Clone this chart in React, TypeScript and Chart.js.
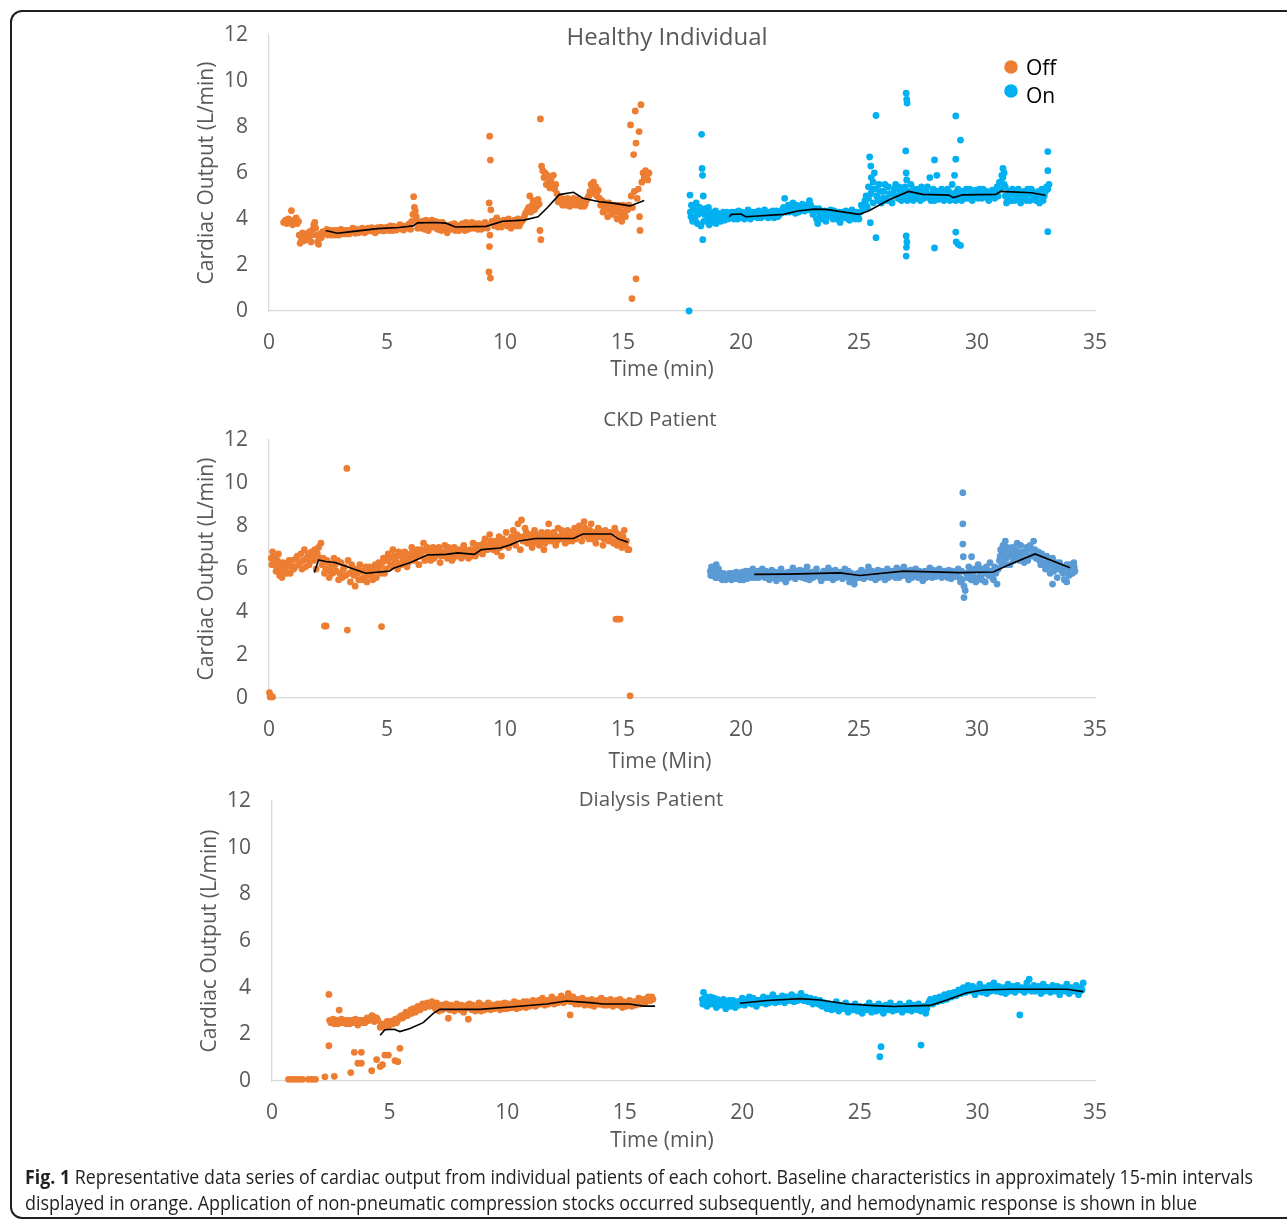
import React, { useEffect, useLayoutEffect, useRef } from "react";
import { Chart, registerables } from "chart.js";

Chart.register(...registerables);

type P = [number, number][];

// ---------------- DATA ----------------
const seriesLabels = ["Off", "On"];
const xTickStep = 5;
const yTickStep = 2;
const xMax = 35;
const yMax = 12;

const healthyOff: P = [
  [0.62,3.85],[0.7,3.95],[0.75,3.8],[0.82,4.0],[0.88,3.9],[0.95,4.36],[1.0,3.75],[1.05,3.95],[1.1,3.85],[1.15,4.05],[1.2,3.8],[1.25,3.9],
  [1.28,3.3],[1.32,2.95],[1.38,3.15],[1.42,3.4],[1.48,3.05],[1.52,3.25],[1.58,3.35],[1.62,3.1],[1.68,3.2],[1.72,3.45],[1.78,3.0],[1.82,3.3],[1.86,3.55],[1.9,3.75],[1.94,3.85],[1.98,3.6],[2.02,3.3],[2.06,3.0],[2.1,2.9],[2.14,3.15],[2.18,3.35],[2.22,3.2],[2.28,3.45],
  [2.35,3.35],[2.45,3.55],[2.55,3.4],[2.65,3.3],[2.75,3.5],[2.85,3.4],[2.95,3.3],[3.05,3.55],[3.15,3.45],[3.25,3.35],[3.35,3.5],[3.45,3.42],[3.55,3.6],[3.65,3.38],[3.75,3.5],[3.85,3.45],[3.95,3.6],[4.05,3.4],[4.15,3.55],[4.25,3.48],[4.35,3.62],[4.45,3.45],[4.55,3.58],[4.65,3.5],[4.75,3.65],[4.85,3.48],[4.95,3.6],[5.05,3.55],[5.15,3.7],[5.25,3.5],[5.35,3.62],[5.45,3.58],[5.55,3.75],[5.65,3.55],[5.75,3.68],[5.85,3.6],[5.95,3.8],
  [6.05,3.9],[6.1,4.2],[6.13,4.97],[6.16,4.5],[6.2,4.35],[6.24,4.1],[6.28,3.9],[6.3,3.6],
  [6.35,3.85],[6.45,3.6],[6.55,3.75],[6.65,3.95],[6.75,3.5],[6.85,3.8],[6.95,3.65],[7.05,3.9],[7.15,3.55],[7.25,3.75],[7.35,3.85],[7.45,3.6],
  [7.55,3.4],[7.65,3.65],[7.75,3.55],[7.85,3.8],[7.95,3.6],[8.05,3.5],[8.15,3.75],[8.25,3.62],[8.35,3.85],[8.45,3.55],[8.55,3.7],[8.65,3.6],[8.75,3.8],[8.85,3.55],[8.95,3.72],[9.05,3.62],[9.15,3.85],[9.25,3.6],
  [9.35,7.6],[9.38,6.56],[9.33,4.7],[9.4,4.4],[9.36,3.3],[9.34,2.8],[9.32,1.7],[9.38,1.43],
  [9.45,3.9],[9.55,3.7],[9.65,4.05],[9.75,3.8],[9.85,3.65],[9.95,3.95],[10.05,3.75],[10.15,4.0],[10.25,3.6],[10.35,3.85],[10.45,3.7],[10.55,4.0],[10.65,3.8],[10.75,3.95],[10.85,4.2],[10.95,4.4],
  [11.0,4.5],[11.05,5.0],[11.1,4.3],[11.15,4.6],[11.2,4.8],[11.25,4.4],[11.3,4.7],[11.35,4.55],[11.4,4.85],[11.45,4.65],
  [11.5,8.35],[11.48,3.5],[11.52,3.1],
  [11.55,6.3],[11.6,6.1],[11.65,5.8],[11.7,6.0],[11.75,5.5],[11.8,5.9],[11.85,5.6],[11.9,5.35],[11.95,5.7],[12.0,5.45],[12.05,5.9],[12.1,5.3],[12.15,5.5],[12.2,5.1],
  [12.3,4.9],[12.4,4.7],[12.5,4.85],[12.6,4.6],[12.7,4.8],[12.8,4.65],[12.9,4.9],[13.0,4.6],[13.1,4.75],[13.2,4.55],[13.3,4.8],[13.4,4.65],[13.5,4.9],
  [13.6,5.2],[13.65,5.5],[13.7,5.3],[13.75,5.6],[13.8,5.1],[13.85,5.4],[13.9,5.0],[13.95,5.25],[14.0,4.9],
  [14.05,4.6],[14.15,4.3],[14.25,4.7],[14.35,4.1],[14.45,4.5],[14.55,4.2],[14.65,4.6],[14.75,4.0],[14.85,4.4],[14.95,3.9],[15.05,4.3],[15.15,4.5],
  [15.25,4.6],[15.32,8.09],[15.35,5.0],[15.4,4.5],[15.45,6.8],[15.48,5.2],[15.52,8.7],[15.55,7.3],[15.55,1.4],[15.38,0.54],[15.6,4.9],[15.65,5.3],[15.68,7.8],[15.7,4.1],[15.72,3.5],[15.76,8.97],[15.8,5.6],[15.85,6.0],[15.9,5.8],[15.95,6.1],[16.0,5.9],[16.05,5.7],[16.1,6.0],
  [2.4,3.45],[2.5,3.3],[2.6,3.5],[2.7,3.4],[2.8,3.3],[2.9,3.5],[3.0,3.4],[3.1,3.35],[3.2,3.5],[3.3,3.45],[3.4,3.35],[3.5,3.48],[3.6,3.45],[3.7,3.55],[3.8,3.4],[3.9,3.52],[4.0,3.5],[4.1,3.45],[4.2,3.6],[4.3,3.5],[4.4,3.52],[4.5,3.4],[4.6,3.62],[4.7,3.55],[4.8,3.58],[4.9,3.5],[5.0,3.65],[5.1,3.5],[5.2,3.6],[5.3,3.68],[5.4,3.52],[5.5,3.65],[5.6,3.6],[5.7,3.52],[5.8,3.7],[5.9,3.65],[6.0,3.55],
  [6.4,3.7],[6.5,3.9],[6.6,3.55],[6.7,3.8],[6.8,3.65],[6.9,3.95],[7.0,3.7],[7.1,3.6],[7.2,3.85],[7.3,3.5],[7.4,3.75],[7.5,3.7],[7.6,3.55],[7.7,3.75],[7.8,3.6],[7.9,3.5],[8.0,3.7],[8.1,3.6],[8.2,3.8],[8.3,3.5],[8.4,3.7],[8.5,3.6],[8.6,3.85],[8.7,3.65],[8.8,3.6],[8.9,3.8],[9.0,3.55],[9.1,3.7],[9.2,3.75],[9.5,3.8],[9.6,3.95],[9.7,3.65],[9.8,3.9],[9.9,3.75],[10.0,3.85],[10.1,3.7],[10.2,3.9],[10.3,3.75],[10.4,3.95],[10.5,3.8],[10.6,3.7],[10.7,3.9],[10.8,4.05],[10.9,4.3],
  [12.25,4.75],[12.35,4.95],[12.45,4.6],[12.55,4.75],[12.65,4.9],[12.75,4.55],[12.85,4.75],[12.95,4.7],[13.05,4.85],[13.15,4.65],[13.25,4.7],[13.35,4.55],[13.45,4.8],[13.55,5.0],[14.1,4.8],[14.2,4.5],[14.3,4.4],[14.4,4.7],[14.5,4.35],[14.6,4.45],[14.7,4.3],[14.8,4.6],[14.9,4.15],[15.0,4.6],[15.1,4.1],[15.2,4.4]
];

const healthyOn: P = [
  [17.8,0.0],[17.84,5.04],[18.33,7.68],[18.35,6.2],[18.37,5.9],[18.4,5.0],[18.38,3.1],
  [17.85,4.3],[17.9,4.6],[17.95,3.9],[18.0,4.4],[18.05,4.1],[18.1,4.7],[18.15,3.8],[18.2,4.3],[18.25,4.5],[18.3,3.7],[18.45,4.2],[18.5,4.45],[18.55,3.9],[18.6,4.1],[18.65,3.75],[18.7,4.3],[18.75,4.0],[18.8,3.85],[18.85,4.2],[18.9,4.05],[18.95,3.8],[19.0,4.25],[19.1,4.0],[19.2,4.15],[19.3,3.95],[19.4,4.3],
  [19.5,4.1],[19.6,4.3],[19.7,4.0],[19.8,4.2],[19.9,4.35],[20.0,4.05],[20.1,4.25],[20.2,4.1],[20.3,4.4],[20.4,4.0],[20.5,4.2],[20.6,4.3],[20.7,4.05],[20.8,4.25],[20.9,4.15],[21.0,4.4],[21.1,4.1],[21.2,4.3],[21.3,4.2],[21.4,4.05],[21.5,4.35],[21.6,4.15],[21.7,4.25],
  [21.8,4.5],[21.85,4.9],[21.9,4.3],[22.0,4.6],[22.1,4.4],[22.2,4.7],[22.3,4.25],[22.4,4.55],[22.5,4.4],[22.6,4.65],[22.7,4.35],[22.8,4.6],[22.9,4.8],[23.0,4.45],
  [23.1,4.3],[23.2,4.0],[23.25,3.8],[23.3,4.45],[23.4,4.1],[23.5,4.3],[23.6,3.9],[23.7,4.2],[23.8,4.4],[23.9,4.0],[24.0,4.25],[24.1,4.1],[24.2,3.85],[24.3,4.3],[24.4,4.05],[24.5,4.2],[24.6,3.95],[24.7,4.4],[24.8,4.1],[24.9,4.3],[25.0,4.0],[25.1,4.6],
  [25.3,5.0],[25.4,5.4],[25.45,6.7],[25.5,6.3],[25.52,5.8],[25.48,3.84],[25.72,8.5],[25.72,3.19],[25.6,5.6],[25.65,6.0],
  [25.25,4.8],[25.35,4.5],[25.55,5.3],[25.75,5.0],[25.85,5.5],[25.95,4.7],[26.05,5.2],[26.15,4.9],[26.25,5.4],[26.35,4.8],[26.45,5.1],[26.55,5.5],[26.65,4.9],[26.75,5.2],[26.85,5.0],[26.95,5.4],[27.05,4.8],[27.15,5.2],[27.25,5.0],[27.35,5.3],[27.45,4.9],[27.55,5.1],[27.65,5.4],[27.75,4.9],[27.85,5.2],[27.95,5.0],[28.05,4.8],[28.15,5.3],[28.25,5.0],[28.35,4.85],[28.45,5.2],[28.55,4.9],[28.65,5.1],[28.75,5.3],[28.85,4.8],[28.95,5.5],[29.05,4.9],[29.15,5.2],[29.25,5.0],[29.35,4.8],[29.45,5.1],[29.55,5.3],[29.65,4.9],[29.75,5.1],[29.85,5.0],[29.95,5.25],[30.05,4.9],[30.15,5.1],[30.25,5.3],[30.35,4.95],[30.45,5.15],[30.55,5.0],[30.65,5.25],[30.75,4.9],[30.85,5.4],[30.95,5.6],[31.05,5.9],[31.1,6.2],[31.15,5.5],[31.2,5.0],[31.25,4.7],[31.35,5.2],[31.45,4.8],[31.55,5.1],[31.65,4.9],[31.75,5.3],[31.85,4.7],[31.95,5.1],[32.05,5.0],[32.15,5.3],[32.25,4.8],[32.35,5.2],[32.45,4.9],[32.55,5.1],[32.65,4.7],[32.75,5.3],[32.85,5.0],[32.95,5.4],[33.05,5.5],
  [27.0,9.47],[27.02,9.2],[27.04,9.04],[26.98,6.96],[27.0,6.0],[27.02,5.7],[27.0,3.26],[27.03,3.0],[27.01,2.77],[27.0,2.39],[28.2,6.57],[28.2,2.74],[28.3,5.9],[29.1,8.48],[29.1,6.6],[29.1,3.43],[29.12,3.0],[29.2,2.9],[29.3,7.43],[29.3,2.85],[29.05,5.9],[28.0,5.8],[33.0,6.93],[33.0,6.1],[33.0,3.45],[31.1,5.8],[31.15,6.0],
  [17.88,4.1],[17.98,4.5],[18.08,3.9],[18.18,4.2],[18.28,4.4],[18.42,3.9],[18.52,4.25],[18.62,4.5],[18.72,3.95],[18.82,4.1],[18.92,4.35],[19.05,4.1],[19.15,3.9],[19.25,4.3],[19.35,4.1],[19.45,4.0],[19.55,4.2],[19.65,4.15],[19.75,4.3],[19.85,4.0],[19.95,4.2],[20.05,4.3],[20.15,4.0],[20.25,4.2],[20.35,4.15],[20.45,4.3],[20.55,4.1],[20.65,4.2],[20.75,4.35],[20.85,4.05],[20.95,4.2],[21.05,4.25],[21.15,4.05],[21.25,4.2],[21.35,4.35],[21.45,4.2],[21.55,4.1],[21.65,4.3],[21.75,4.4],[21.95,4.5],[22.05,4.3],[22.15,4.55],[22.25,4.45],[22.35,4.6],[22.45,4.3],[22.55,4.5],[22.65,4.4],[22.75,4.55],[22.85,4.4],[22.95,4.6],[23.05,4.2],[23.15,4.45],[23.35,4.2],[23.45,4.0],[23.55,4.35],[23.65,4.1],[23.75,4.3],[23.85,4.15],[23.95,4.35],[24.05,4.0],[24.15,4.3],[24.25,4.15],[24.35,4.1],[24.45,4.35],[24.55,4.0],[24.65,4.2],[24.75,4.1],[24.85,4.0],[24.95,4.2],[25.05,4.3],[25.15,4.4],
  [25.3,4.6],[25.4,4.9],[25.5,5.1],[25.6,4.7],[25.7,5.3],[25.8,4.8],[25.9,5.2],[26.0,4.9],[26.1,5.5],[26.2,4.8],[26.3,5.1],[26.4,4.7],[26.5,5.3],[26.6,5.0],[26.7,5.4],[26.8,4.8],[26.9,5.2],[27.1,5.0],[27.2,5.5],[27.3,4.8],[27.4,5.1],[27.5,5.3],[27.6,4.8],[27.7,5.2],[27.8,5.0],[27.9,5.4],[28.0,4.9],[28.1,5.1],[28.2,4.8],[28.3,5.2],[28.4,5.0],[28.5,5.3],[28.6,4.8],[28.7,5.0],[28.8,5.2],[28.9,4.9],[29.0,5.1],[29.1,4.8],[29.2,5.3],[29.3,5.0],[29.4,5.2],[29.5,4.9],[29.6,5.0],[29.7,5.3],[29.8,4.8],[29.9,5.1],[30.0,5.0],[30.1,5.3],[30.2,4.9],[30.3,5.1],[30.4,5.2],[30.5,4.8],[30.6,5.1],[30.7,5.0],[30.8,5.2],[30.9,5.0],[31.0,5.3],[31.2,5.4],[31.3,4.9],[31.4,5.1],[31.5,5.3],[31.6,4.8],[31.7,5.0],[31.8,5.2],[31.9,4.9],[32.0,5.2],[32.1,4.8],[32.2,5.1],[32.3,5.3],[32.4,5.0],[32.5,4.8],[32.6,5.2],[32.7,5.0],[32.8,4.8],[32.9,5.2],[33.0,5.3]
];

const healthyOffTrend: P = [
  [2.4,3.5],[2.9,3.38],[3.5,3.45],[4.6,3.58],[5.5,3.63],[6.1,3.7],[6.3,3.83],[7.0,3.85],[7.5,3.82],[7.9,3.65],[9.2,3.68],[9.9,3.9],[10.8,3.95],[11.4,4.1],[11.8,4.5],[12.3,5.06],[12.9,5.16],[13.3,4.9],[14.0,4.75],[14.5,4.7],[15.3,4.57],[15.9,4.8]
];
const healthyOnTrend: P = [
  [19.5,4.1],[19.6,4.2],[20.0,4.22],[20.2,4.1],[21.8,4.2],[22.4,4.35],[23.1,4.43],[23.6,4.42],[25.0,4.2],[25.4,4.35],[26.3,4.85],[27.1,5.2],[27.7,5.07],[28.8,5.04],[29.0,4.93],[29.4,5.05],[30.8,5.07],[31.0,5.2],[32.3,5.14],[32.9,5.03]
];

const ckdOff: P = [
  [0.02,0.25],[0.08,0.1],[0.15,0.05],[0.05,0.05],
  [0.1,6.5],[0.15,6.8],[0.2,6.2],[0.25,6.6],[0.3,5.9],[0.35,6.4],[0.4,6.7],[0.45,5.7],[0.5,6.1],[0.55,5.6],[0.6,6.3],[0.7,6.0],[0.8,6.2],[0.9,5.8],[1.0,6.4],[1.1,6.1],[1.2,6.6],[1.3,6.3],[1.4,6.0],[1.5,6.9],[1.6,6.5],[1.7,6.2],[1.8,6.8],[1.9,6.4],[2.0,6.0],[2.05,6.7],[2.1,7.0],[2.15,6.5],[2.2,7.2],
  [2.25,6.2],[2.35,5.8],[2.45,6.4],[2.55,5.6],[2.65,6.1],[2.75,6.5],[2.85,5.9],[2.95,5.5],[3.05,6.3],[3.15,6.0],[3.25,5.7],[3.35,6.4],[3.45,5.4],[3.55,6.0],[3.65,5.2],[3.75,5.8],[3.85,6.2],[3.95,5.5],[4.05,5.9],[4.15,5.4],
  [3.3,10.68],[2.35,3.35],[2.42,3.35],[3.32,3.16],[4.77,3.32],
  [4.25,6.1],[4.35,5.7],[4.45,6.0],[4.55,5.6],[4.65,6.3],[4.75,5.8],[4.85,6.5],[4.95,6.0],[5.05,6.7],[5.15,6.2],[5.25,6.9],[5.35,6.4],[5.45,6.0],[5.55,6.6],[5.65,6.3],[5.75,6.8],[5.85,6.1],[5.95,6.5],[6.05,7.0],[6.15,6.4],[6.25,6.7],[6.35,6.2],[6.45,6.9],[6.55,7.2],[6.65,6.5],
  [6.75,6.8],[6.85,6.4],[6.95,7.0],[7.05,6.6],[7.15,6.9],[7.25,6.3],[7.35,6.7],[7.45,7.1],[7.55,6.5],[7.65,6.8],[7.75,6.4],[7.85,7.0],[7.95,6.6],[8.05,6.9],[8.15,6.5],[8.25,7.1],[8.35,6.7],[8.45,6.5],[8.55,6.9],[8.65,7.2],[8.75,6.6],[8.85,6.8],
  [8.95,7.1],[9.05,6.7],[9.15,7.4],[9.25,6.9],[9.35,7.6],[9.45,7.0],[9.55,7.3],[9.65,6.8],[9.75,7.5],[9.85,6.6],[9.95,7.2],[10.05,7.7],[10.15,7.0],[10.25,7.4],
  [10.35,7.8],[10.45,7.1],[10.55,8.1],[10.6,7.5],[10.65,6.9],[10.7,8.28],[10.75,7.3],[10.85,7.9],[10.95,7.2],[11.05,7.6],[11.15,7.0],[11.25,7.8],[11.35,7.3],[11.45,7.1],[11.55,7.7],[11.65,6.9],
  [11.75,7.5],[11.85,8.1],[11.95,7.3],[12.05,7.7],[12.15,7.1],[12.25,7.9],[12.35,7.4],[12.45,7.6],[12.55,7.2],[12.65,7.8],[12.75,7.5],[12.85,7.3],[12.95,7.9],
  [13.05,7.6],[13.15,8.0],[13.25,7.3],[13.35,8.2],[13.45,7.8],[13.55,7.4],[13.65,8.1],[13.75,7.6],[13.85,7.2],[13.95,7.9],[14.05,7.5],[14.15,7.1],[14.25,7.8],[14.35,7.4],[14.45,7.7],
  [14.55,7.3],[14.65,7.9],[14.75,7.1],[14.85,7.6],[14.95,7.0],[15.05,7.8],[15.15,7.3],[15.2,6.9],[15.25,6.9],
  [14.7,3.67],[14.8,3.67],[14.88,3.67],[15.3,0.1],
  [0.12,6.2],[0.22,6.5],[0.32,6.1],[0.42,6.3],[0.52,5.9],[0.65,6.2],[0.75,5.8],[0.85,6.4],[0.95,6.1],[1.05,6.0],[1.15,6.5],[1.25,6.2],[1.35,6.7],[1.45,6.4],[1.55,6.1],[1.65,6.7],[1.75,6.4],[1.85,6.6],[1.95,6.9],[2.3,6.5],[2.4,6.0],[2.5,6.3],[2.6,5.9],[2.7,5.8],[2.8,6.2],[2.9,6.4],[3.0,5.8],[3.1,5.6],[3.2,6.1],[3.4,5.8],[3.5,6.2],[3.6,5.7],[3.7,6.0],[3.8,5.5],[3.9,5.9],[4.0,5.6],[4.1,6.1],[4.2,5.7],[4.3,5.9],[4.4,5.5],[4.5,6.2],[4.6,5.9],[4.7,6.1],[4.8,6.3],[4.9,5.8],[5.0,6.4],[5.1,6.5],[5.2,6.1],[5.3,6.6],[5.4,6.3],[5.5,6.8],[5.6,6.2],[5.7,6.5],[5.8,6.7],[5.9,6.3],[6.0,6.7],[6.1,6.8],[6.2,6.5],[6.3,6.9],[6.4,6.6],[6.5,6.8],[6.6,6.4],[6.7,7.0],[6.8,6.6],[6.9,6.8],[7.0,6.5],[7.1,6.7],[7.2,7.0],[7.3,6.6],[7.4,6.8],[7.5,6.6],[7.6,7.0],[7.7,6.7],[7.8,6.5],[7.9,6.9],[8.0,6.7],[8.1,6.8],[8.2,6.6],[8.3,6.9],[8.4,6.8],[8.5,6.7],[8.6,6.6],[8.7,6.9],[8.8,7.1],[8.9,6.9],[9.0,6.8],[9.1,7.2],[9.2,7.0],[9.3,7.1],[9.4,7.3],[9.5,6.9],[9.6,7.1],[9.7,7.2],[9.8,7.0],[9.9,7.4],[10.0,7.1],[10.1,7.3],[10.2,7.2],[10.3,7.5],[10.4,7.3],[10.5,7.6],[10.8,7.5],[10.9,7.7],[11.0,7.3],[11.1,7.5],[11.2,7.2],[11.3,7.6],[11.4,7.5],[11.5,7.3],[11.6,7.4],[11.7,7.2],[11.8,7.7],[11.9,7.4],[12.0,7.5],[12.1,7.6],[12.2,7.3],[12.3,7.5],[12.4,7.8],[12.5,7.4],[12.6,7.6],[12.7,7.3],[12.8,7.7],[12.9,7.5],[13.0,7.4],[13.1,7.8],[13.2,7.7],[13.3,7.5],[13.4,7.9],[13.5,7.6],[13.6,7.8],[13.7,7.4],[13.8,7.7],[13.9,7.5],[14.0,7.8],[14.1,7.6],[14.2,7.4],[14.3,7.6],[14.4,7.3],[14.5,7.5],[14.6,7.2],[14.7,7.7],[14.8,7.4],[14.9,7.2],[15.0,7.5],[15.1,7.1]
];

const ckdOn: P = [
  [18.7,5.9],[18.75,6.1],[18.8,5.7],[18.85,6.0],[18.9,5.8],[18.95,6.2],[19.0,5.6],[19.05,6.0],[19.1,5.8],[19.2,5.5],[19.3,5.7],[19.4,5.55],[19.5,5.8],[19.6,5.5],[19.7,5.65],[19.8,5.85],[19.9,5.6],[20.0,5.75],[20.1,5.5],[20.2,5.9],[20.3,5.65],[20.4,5.8],[20.5,6.0],[20.6,5.6],
  [20.7,5.9],[20.8,5.7],[20.9,6.0],[21.0,5.6],[21.1,5.85],[21.2,5.5],[21.3,5.95],[21.4,5.7],[21.5,5.45],[21.6,5.8],[21.7,6.0],[21.8,5.6],[21.9,5.4],[22.0,5.85],[22.1,5.7],[22.2,6.05],[22.3,5.55],[22.4,5.8],[22.5,5.95],[22.6,5.6],[22.7,5.75],[22.8,6.1],[22.9,5.5],[23.0,5.85],[23.1,5.65],[23.2,6.0],[23.3,5.7],[23.4,5.45],[23.5,5.9],[23.6,5.6],[23.7,6.05],[23.8,5.75],[23.9,5.5],[24.0,5.95],[24.1,5.7],[24.2,5.85],[24.3,5.55],[24.4,6.0],[24.5,5.65],[24.6,5.4],[24.7,5.8],[24.8,5.3],[24.9,5.6],[25.0,5.75],[25.1,5.95],[25.2,5.55],[25.3,5.85],[25.4,6.1],[25.5,5.6],[25.6,5.8],[25.7,5.5],[25.8,5.95],[25.9,5.7],[26.0,5.85],[26.1,5.5],[26.2,6.0],[26.3,5.65],[26.4,5.9],[26.5,5.75],[26.6,6.05],[26.7,5.6],[26.8,5.85],[26.9,6.1],[27.0,5.7],[27.1,5.5],[27.2,5.95],[27.3,5.75],[27.4,6.0],[27.5,5.6],[27.6,5.85],[27.7,5.45],[27.8,5.9],[27.9,5.7],[28.0,6.05],[28.1,5.6],[28.2,5.85],[28.3,5.75],[28.4,6.0],[28.5,5.6],[28.6,5.9],[28.7,5.7],[28.8,5.95],[28.9,5.55],[29.0,5.8],[29.1,5.65],[29.2,6.0],[29.3,5.4],
  [29.4,9.55],[29.4,8.1],[29.4,7.16],[29.42,6.57],[29.77,6.57],[29.45,5.2],[29.45,4.67],[29.5,5.0],[29.38,5.5],
  [29.55,5.8],[29.65,6.1],[29.75,5.5],[29.85,5.9],[29.95,5.4],[30.05,6.2],[30.15,5.7],[30.25,6.0],[30.35,5.4],[30.45,5.9],[30.55,6.3],[30.65,5.6],[30.75,6.1],[30.85,5.3],
  [30.95,6.4],[31.0,6.9],[31.05,6.2],[31.1,7.1],[31.15,6.6],[31.2,7.3],[31.25,6.5],[31.3,6.9],[31.4,6.2],[31.5,7.0],[31.6,6.6],[31.7,7.2],[31.8,6.4],[31.9,6.8],[32.0,6.3],[32.1,7.0],[32.2,6.6],[32.3,6.9],[32.4,7.3],[32.5,6.5],
  [32.6,6.8],[32.7,6.2],[32.8,6.6],[32.9,6.0],[33.0,6.4],[33.1,5.8],[33.2,6.5],[33.3,6.1],[33.4,5.6],[33.5,6.3],[33.6,5.9],[33.7,5.5],[33.8,6.2],[33.9,5.7],[34.0,6.1],[34.1,6.3],[34.15,5.9],
  [33.2,5.3],[33.8,5.4],
  [18.72,5.7],[18.82,5.95],[18.92,5.6],[19.02,5.85],[19.15,5.65],[19.25,5.8],[19.35,5.5],[19.45,5.7],[19.55,5.6],[19.65,5.8],[19.75,5.55],[19.85,5.7],[19.95,5.5],[20.05,5.85],[20.15,5.7],[20.25,5.55],[20.35,5.9],[20.45,5.6],[20.55,5.75],[20.65,5.85],[20.75,5.6],[20.85,5.8],[20.95,5.7],[21.05,5.9],[21.15,5.65],[21.25,5.8],[21.35,5.6],[21.45,5.85],[21.55,5.65],[21.65,5.75],[21.75,5.55],[21.85,5.8],[21.95,5.7],[22.05,5.6],[22.15,5.8],[22.25,5.7],[22.35,5.9],[22.45,5.65],[22.55,5.75],[22.65,5.9],[22.75,5.55],[22.85,5.8],[22.95,5.7],[23.05,5.6],[23.15,5.85],[23.25,5.75],[23.35,5.6],[23.45,5.8],[23.55,5.7],[23.65,5.85],[23.75,5.6],[23.85,5.9],[23.95,5.7],[24.05,5.6],[24.15,5.8],[24.25,5.7],[24.35,5.85],[24.45,5.75],[24.55,5.9],[24.65,5.6],[24.75,5.7],[24.85,5.55],[24.95,5.8],[25.05,5.6],[25.15,5.7],[25.25,5.85],[25.35,5.65],[25.45,5.8],[25.55,5.9],[25.65,5.65],[25.75,5.8],[25.85,5.6],[25.95,5.9],[26.05,5.7],[26.15,5.8],[26.25,5.6],[26.35,5.85],[26.45,5.7],[26.55,5.6],[26.65,5.8],[26.75,5.95],[26.85,5.7],[26.95,5.85],[27.05,5.9],[27.15,5.7],[27.25,5.6],[27.35,5.85],[27.45,5.75],[27.55,5.9],[27.65,5.7],[27.75,5.8],[27.85,5.6],[27.95,5.85],[28.05,5.8],[28.15,5.95],[28.25,5.65],[28.35,5.9],[28.45,5.8],[28.55,5.7],[28.65,5.85],[28.75,5.6],[28.85,5.8],[28.95,5.9],[29.05,5.7],[29.15,5.85],[29.25,5.6],[29.35,5.9],[29.6,5.6],[29.7,5.9],[29.8,5.7],[29.9,6.0],[30.0,5.6],[30.1,5.9],[30.2,5.5],[30.3,5.8],[30.4,6.1],[30.5,5.7],[30.6,5.9],[30.7,5.5],[30.8,5.8],[30.9,6.0],[30.98,6.6],[31.02,6.5],[31.08,6.8],[31.12,6.3],[31.18,6.9],[31.22,6.2],[31.28,7.0],[31.35,6.6],[31.45,6.8],[31.55,6.4],[31.65,6.9],[31.75,6.7],[31.85,7.1],[31.95,6.5],[32.05,6.8],[32.15,6.4],[32.25,7.1],[32.35,6.6],[32.45,6.9],[32.55,6.7],[32.65,6.4],[32.75,6.7],[32.85,6.3],[32.95,6.6],[33.05,6.1],[33.15,6.3],[33.25,5.9],[33.35,6.3],[33.45,6.0],[33.55,6.1],[33.65,5.8],[33.75,6.0],[33.85,5.9],[33.95,6.2],[34.05,5.8],[34.12,6.1]
];

const ckdOffTrend: P = [
  [1.92,5.84],[2.1,6.42],[2.4,6.35],[2.8,6.3],[4.1,5.8],[5.1,5.9],[5.3,6.05],[6.0,6.3],[6.7,6.65],[7.5,6.68],[8.0,6.75],[8.7,6.68],[9.0,6.9],[9.8,6.98],[10.2,7.12],[10.6,7.3],[11.3,7.42],[12.9,7.42],[13.3,7.63],[14.5,7.63],[14.8,7.4],[15.2,7.25]
];
const ckdOnTrend: P = [
  [20.56,5.75],[22.0,5.76],[24.2,5.82],[25.04,5.7],[26.88,5.9],[29.28,5.83],[30.69,5.86],[31.26,6.15],[32.46,6.7],[33.94,6.06]
];

const dialysisOff: P = [
  [0.7,0.07],[0.85,0.07],[1.0,0.07],[1.15,0.07],[1.3,0.07],[1.55,0.07],[1.7,0.07],[1.85,0.07],[2.25,0.18],[2.65,0.2],
  [2.42,3.71],[2.42,1.51],[2.86,3.04],[3.35,0.36],[3.5,1.23],[3.8,1.23],[3.65,0.76],[3.8,0.76],[4.24,0.44],[4.45,0.92],[4.6,0.62],[4.7,0.7],[4.8,1.11],[4.95,1.11],[5.23,0.87],[5.35,0.83],[5.44,1.4],
  [2.45,2.6],[2.55,2.55],[2.65,2.45],[2.75,2.6],[2.85,2.5],[2.95,2.65],[3.05,2.55],[3.15,2.45],[3.25,2.6],[3.35,2.5],[3.45,2.55],[3.55,2.65],[3.65,2.4],[3.75,2.6],[3.85,2.55],[3.95,2.5],[4.05,2.7],[4.15,2.6],[4.25,2.8],[4.3,2.76],[4.4,2.65],[4.5,2.6],
  [4.6,2.3],[4.7,2.45],[4.8,2.35],[4.9,2.55],[5.0,2.4],[5.1,2.5],[5.2,2.6],[5.3,2.5],[5.4,2.7],[5.5,2.8],[5.6,2.75],[5.7,2.95],[5.8,2.85],[5.9,3.05],[6.0,3.1],[6.1,2.95],[6.2,3.2],[6.3,3.05],[6.4,3.3],[6.5,3.15],[6.6,3.35],[6.7,3.2],[6.8,3.4],
  [6.9,3.2],[7.0,3.35],[7.1,3.0],[7.2,3.25],[7.3,3.1],[7.4,3.3],[7.5,2.69],[7.55,3.05],[7.65,3.2],[7.75,3.0],[7.85,3.3],[7.95,3.1],[8.05,3.25],[8.15,2.95],[8.25,3.15],[8.35,2.65],[8.4,3.3],[8.5,3.05],[8.6,3.2],[8.7,3.1],[8.8,3.35],[8.9,3.0],[9.0,3.2],[9.1,3.1],[9.2,3.35],[9.3,3.05],[9.4,3.25],[9.5,3.15],[9.6,3.3],[9.7,3.05],[9.8,3.2],[9.9,3.35],[10.0,3.1],[10.1,3.25],[10.2,3.15],[10.3,3.4],[10.4,3.1],[10.5,3.3],[10.6,3.2],[10.7,3.4],[10.8,3.15],[10.9,3.35],[11.0,3.25],[11.1,3.45],[11.2,3.2],[11.3,3.4],[11.4,3.3],[11.5,3.55],[11.6,3.25],[11.7,3.45],[11.8,3.35],[11.9,3.6],[12.0,3.3],[12.1,3.5],[12.2,3.4],[12.3,3.65],[12.4,3.35],[12.5,3.55],[12.6,3.75],[12.68,2.83],[12.7,3.4],[12.8,3.6],[12.9,3.3],[13.0,3.5],[13.1,3.35],[13.2,3.55],[13.3,3.25],[13.4,3.45],[13.5,3.3],[13.6,3.5],[13.7,3.2],[13.8,3.4],[13.9,3.3],[14.0,3.55],[14.1,3.25],[14.2,3.45],[14.3,3.3],[14.4,3.5],[14.5,3.2],[14.6,3.4],[14.7,3.3],[14.8,3.5],[14.9,3.15],[15.0,3.35],[15.1,3.25],[15.2,3.45],[15.3,3.2],[15.4,3.4],[15.5,3.3],[15.6,3.55],[15.7,3.35],[15.8,3.5],[15.9,3.4],[16.0,3.6],[16.1,3.45],[16.2,3.5],
  [2.5,2.5],[2.6,2.65],[2.7,2.5],[2.8,2.45],[2.9,2.55],[3.0,2.5],[3.1,2.6],[3.2,2.5],[3.3,2.45],[3.4,2.6],[3.5,2.5],[3.6,2.55],[3.7,2.6],[3.8,2.5],[3.9,2.6],[4.0,2.55],[4.1,2.6],[4.2,2.7],[4.35,2.55],[4.45,2.7],
  [4.65,2.4],[4.75,2.3],[4.85,2.45],[4.95,2.35],[5.05,2.55],[5.15,2.45],[5.25,2.65],[5.35,2.6],[5.45,2.75],[5.55,2.7],[5.65,2.85],[5.75,2.8],[5.85,2.95],[5.95,2.9],[6.05,3.0],[6.15,3.1],[6.25,3.15],[6.35,3.2],[6.45,3.25],[6.55,3.25],[6.65,3.3],[6.75,3.35],[6.85,3.25],
  [6.95,3.1],[7.05,3.25],[7.15,3.2],[7.25,3.05],[7.35,3.2],[7.45,3.15],[7.6,3.25],[7.7,3.1],[7.8,3.2],[7.9,3.25],[8.0,3.05],[8.1,3.2],[8.2,3.1],[8.3,3.25],[8.45,3.15],[8.55,3.25],[8.65,3.0],[8.75,3.2],[8.85,3.15],[8.95,3.25],[9.05,3.05],[9.15,3.2],[9.25,3.15],[9.35,3.25],[9.45,3.1],[9.55,3.2],[9.65,3.15],[9.75,3.3],[9.85,3.1],[9.95,3.2],[10.05,3.3],[10.15,3.15],[10.25,3.25],[10.35,3.2],[10.45,3.35],[10.55,3.15],[10.65,3.3],[10.75,3.25],[10.85,3.4],[10.95,3.2],[11.05,3.3],[11.15,3.35],[11.25,3.25],[11.35,3.45],[11.45,3.35],[11.55,3.3],[11.65,3.4],[11.75,3.3],[11.85,3.45],[11.95,3.35],[12.05,3.45],[12.15,3.35],[12.25,3.5],[12.35,3.45],[12.45,3.4],[12.55,3.5],[12.65,3.55],[12.75,3.45],[12.85,3.4],[12.95,3.45],[13.05,3.3],[13.15,3.45],[13.25,3.4],[13.35,3.35],[13.45,3.4],[13.55,3.25],[13.65,3.4],[13.75,3.35],[13.85,3.45],[13.95,3.3],[14.05,3.4],[14.15,3.35],[14.25,3.25],[14.35,3.4],[14.45,3.35],[14.55,3.3],[14.65,3.45],[14.75,3.25],[14.85,3.35],[14.95,3.4],[15.05,3.2],[15.15,3.35],[15.25,3.3],[15.35,3.35],[15.45,3.25],[15.55,3.4],[15.65,3.3],[15.75,3.45],[15.85,3.35],[15.95,3.45],[16.05,3.5],[16.15,3.6]
];

const dialysisOn: P = [
  [18.3,3.5],[18.35,3.8],[18.4,3.3],[18.45,3.6],[18.5,3.2],[18.6,3.45],[18.7,3.3],[18.8,3.55],[18.9,3.15],[19.0,3.4],[19.1,3.25],[19.2,3.5],[19.3,3.1],[19.4,3.35],[19.5,3.2],[19.6,3.45],[19.7,3.15],[19.8,3.4],
  [19.9,3.3],[20.0,3.55],[20.1,3.25],[20.2,3.45],[20.3,3.6],[20.4,3.3],[20.5,3.5],[20.6,3.2],[20.7,3.45],[20.8,3.35],[20.9,3.6],[21.0,3.3],[21.1,3.55],[21.2,3.4],[21.3,3.7],[21.4,3.35],[21.5,3.55],[21.6,3.45],[21.7,3.65],[21.8,3.35],[21.9,3.6],[22.0,3.45],[22.1,3.7],[22.2,3.4],[22.3,3.6],[22.4,3.5],[22.5,3.75],[22.6,3.45],[22.7,3.6],[22.8,3.4],[22.9,3.55],[23.0,3.3],[23.1,3.5],[23.2,3.35],
  [23.3,3.45],[23.4,3.2],[23.5,3.35],[23.6,3.1],[23.7,3.3],[23.8,3.05],[23.9,3.25],[24.0,3.4],[24.1,3.0],[24.2,3.2],[24.3,3.1],[24.4,3.35],[24.5,2.95],[24.6,3.2],[24.7,3.05],[24.8,3.3],[24.9,3.0],[25.0,3.2],[25.1,2.9],[25.2,3.15],[25.3,3.05],[25.4,3.35],[25.5,2.95],[25.6,3.2],[25.7,3.0],[25.8,3.3],[25.9,3.1],[26.0,2.9],[26.1,3.25],[26.2,3.05],[26.3,3.35],[26.4,3.0],[26.5,3.2],[26.6,3.1],[26.7,3.3],[26.8,2.95],[26.9,3.2],[27.0,3.05],[27.1,3.35],[27.2,3.0],[27.3,3.25],[27.4,3.1],[27.5,3.3],[27.6,3.0],[27.7,3.2],[27.8,2.9],
  [25.9,1.47],[25.85,1.04],[27.6,1.54],
  [27.9,3.3],[28.0,3.5],[28.1,3.3],[28.2,3.55],[28.3,3.4],[28.4,3.6],[28.5,3.45],[28.6,3.7],[28.7,3.5],[28.8,3.75],[28.9,3.6],[29.0,3.8],[29.1,3.65],[29.2,3.9],
  [29.3,3.75],[29.4,4.0],[29.5,3.8],[29.6,4.1],[29.7,3.85],[29.8,4.05],[29.9,3.7],[30.0,3.95],[30.1,4.15],[30.2,3.8],[30.3,4.0],[30.4,3.75],[30.5,4.1],[30.6,3.9],[30.7,4.2],[30.8,3.85],[30.9,4.05],[31.0,3.8],[31.1,4.0],[31.2,3.75],[31.3,4.15],[31.4,3.9],[31.5,4.05],[31.6,3.8],[31.7,4.1],[31.8,2.83],[31.85,3.9],[31.9,4.0],[32.0,3.8],[32.1,4.2],[32.2,4.36],[32.3,3.85],[32.4,4.1],[32.5,3.9],[32.6,4.05],[32.7,3.75],[32.8,4.15],[32.9,3.9],[33.0,4.0],[33.1,3.8],[33.2,4.1],[33.3,3.85],[33.4,4.05],[33.5,3.7],[33.6,4.0],[33.7,3.9],[33.8,4.15],[33.9,3.75],[34.0,4.0],[34.1,3.85],[34.2,4.1],[34.3,3.7],[34.4,4.0],[34.5,4.2],
  [18.32,3.3],[18.42,3.55],[18.55,3.35],[18.65,3.6],[18.75,3.4],[18.85,3.3],[18.95,3.5],[19.05,3.3],[19.15,3.45],[19.25,3.35],[19.35,3.25],[19.45,3.45],[19.55,3.3],[19.65,3.35],[19.75,3.3],[19.85,3.25],[19.95,3.45],[20.05,3.35],[20.15,3.5],[20.25,3.35],[20.35,3.45],[20.45,3.55],[20.55,3.35],[20.65,3.45],[20.75,3.35],[20.85,3.5],[20.95,3.4],[21.05,3.45],[21.15,3.35],[21.25,3.5],[21.35,3.55],[21.45,3.45],[21.55,3.4],[21.65,3.55],[21.75,3.5],[21.85,3.45],[21.95,3.5],[22.05,3.55],[22.15,3.45],[22.25,3.55],[22.35,3.45],[22.45,3.6],[22.55,3.5],[22.65,3.45],[22.75,3.55],[22.85,3.5],[22.95,3.4],[23.05,3.45],[23.15,3.35],[23.25,3.3],[23.35,3.25],[23.45,3.35],[23.55,3.25],[23.65,3.2],[23.75,3.25],[23.85,3.2],[23.95,3.1],[24.05,3.25],[24.15,3.15],[24.25,3.25],[24.35,3.15],[24.45,3.1],[24.55,3.2],[24.65,3.1],[24.75,3.2],[24.85,3.1],[24.95,3.05],[25.05,3.15],[25.15,3.1],[25.25,3.2],[25.35,3.1],[25.45,3.15],[25.55,3.1],[25.65,3.15],[25.75,3.2],[25.85,3.05],[25.95,3.2],[26.05,3.1],[26.15,3.15],[26.25,3.2],[26.35,3.1],[26.45,3.15],[26.55,3.05],[26.65,3.2],[26.75,3.1],[26.85,3.15],[26.95,3.1],[27.05,3.2],[27.15,3.1],[27.25,3.15],[27.35,3.2],[27.45,3.05],[27.55,3.15],[27.65,3.1],[27.75,3.2],[27.85,3.1],[27.95,3.4],[28.05,3.35],[28.15,3.45],[28.25,3.4],[28.35,3.5],[28.45,3.55],[28.55,3.5],[28.65,3.6],[28.75,3.6],[28.85,3.7],[28.95,3.7],[29.05,3.75],[29.15,3.8],[29.25,3.8],[29.35,3.85],[29.45,3.9],[29.55,3.95],[29.65,3.9],[29.75,3.95],[29.85,3.85],[29.95,3.9],[30.05,3.85],[30.15,3.95],[30.25,3.9],[30.35,3.85],[30.45,3.95],[30.55,3.85],[30.65,3.95],[30.75,3.9],[30.85,3.95],[30.95,3.9],[31.05,3.95],[31.15,3.85],[31.25,3.95],[31.35,3.85],[31.45,4.0],[31.55,3.95],[31.65,3.9],[31.75,3.95],[31.95,3.9],[32.05,3.95],[32.15,4.0],[32.25,3.9],[32.35,4.0],[32.45,3.85],[32.55,3.95],[32.65,3.9],[32.75,3.95],[32.85,3.85],[32.95,4.0],[33.05,3.9],[33.15,3.95],[33.25,3.9],[33.35,3.95],[33.45,3.9],[33.55,3.85],[33.65,3.95],[33.75,3.85],[33.85,3.95],[33.95,3.9],[34.05,3.95],[34.15,3.9],[34.25,3.95],[34.35,3.85],[34.45,3.9]
];

const dialysisOffTrend: P = [
  [4.6,1.96],[4.8,2.2],[5.2,2.22],[5.44,2.12],[5.87,2.25],[6.43,2.5],[6.86,2.9],[7.14,3.07],[8.84,3.07],[10.26,3.18],[11.68,3.3],[12.53,3.43],[13.52,3.36],[14.1,3.3],[15.2,3.3],[15.8,3.21],[16.29,3.21]
];
const dialysisOnTrend: P = [
  [19.9,3.33],[21.05,3.45],[22.46,3.53],[23.3,3.47],[24.45,3.3],[25.6,3.23],[26.45,3.19],[28.0,3.24],[28.7,3.47],[29.55,3.78],[30.26,3.9],[31.25,3.93],[32.67,3.93],[33.8,3.93],[34.5,3.83]
];

const yAxisTitle = "Cardiac Output (L/min)";
const captionBold = "Fig. 1";
const captionLines = [
  "Representative data series of cardiac output from individual patients of each cohort. Baseline characteristics in approximately 15-min intervals",
  "displayed in orange. Application of non-pneumatic compression stocks occurred subsequently, and hemodynamic response is shown in blue",
];

// ---------------- STYLE ----------------
const FONT = '"Open Sans", "Noto Sans", sans-serif';
const ORANGE = "#ED7D31";
const BLUE = "#00B0F0";
const BLUE_CKD = "#5B9BD5";
const GRAY_TEXT = "#595959";
const AXIS = "#D9D9D9";

type Panel = {
  top: number; height: number;
  padTop: number; padLeft: number; padRight: number; padBottom: number;
  yW: number; xH: number;
  title: string; titleX: number; titleY: number; titleSize: number;
  xTitle: string; xTitleX: number; xTitleY: number;
  off: P; on: P; offTrend: P; onTrend: P; onColor: string; legend: boolean;
};

const panels: Panel[] = [
  { top: 0, height: 390, padTop: 35, padLeft: 191, padRight: 192, padBottom: 5, yW: 78, xH: 74,
    title: "Healthy Individual", titleX: 667, titleY: 38, titleSize: 24,
    xTitle: "Time (min)", xTitleX: 662, xTitleY: 370,
    off: healthyOff, on: healthyOn, offTrend: healthyOffTrend, onTrend: healthyOnTrend, onColor: BLUE, legend: true },
  { top: 395, height: 385, padTop: 45, padLeft: 191, padRight: 192, padBottom: 3, yW: 78, xH: 79,
    title: "CKD Patient", titleX: 660, titleY: 25, titleSize: 20.5,
    xTitle: "Time (Min)", xTitleX: 660, xTitleY: 367,
    off: ckdOff, on: ckdOn, offTrend: ckdOffTrend, onTrend: ckdOnTrend, onColor: BLUE_CKD, legend: false },
  { top: 760, height: 400, padTop: 41, padLeft: 194, padRight: 192, padBottom: 4, yW: 78, xH: 75,
    title: "Dialysis Patient", titleX: 651, titleY: 40, titleSize: 20.5,
    xTitle: "Time (min)", xTitleX: 662, xTitleY: 381,
    off: dialysisOff, on: dialysisOn, offTrend: dialysisOffTrend, onTrend: dialysisOnTrend, onColor: BLUE, legend: false },
];

const toXY = (p: P) => p.map(([x, y]) => ({ x, y }));

function ChartPanel({ p }: { p: Panel }) {
  const ref = useRef<HTMLCanvasElement>(null);
  useEffect(() => {
    if (!ref.current) return;
    const overlay = {
      id: "overlay",
      afterDraw(chart: any) {
        const ctx = chart.ctx;
        ctx.save();
        ctx.fillStyle = GRAY_TEXT;
        ctx.textAlign = "center";
        ctx.textBaseline = "middle";
        ctx.font = `${p.titleSize}px ${FONT}`;
        ctx.fillText(p.title, p.titleX, p.titleY);
        ctx.font = `21px ${FONT}`;
        ctx.fillText(p.xTitle, p.xTitleX, p.xTitleY);
        if (p.legend) {
          const items = chart.data.datasets.filter((d: any) => d.label);
          items.forEach((d: any, i: number) => {
            const cy = 67 + i * 24;
            ctx.beginPath();
            ctx.fillStyle = d.backgroundColor;
            ctx.arc(1011, cy, 6.8, 0, Math.PI * 2);
            ctx.fill();
            ctx.fillStyle = "#000";
            ctx.font = `21px ${FONT}`;
            ctx.textAlign = "left";
            ctx.fillText(d.label, 1026, cy + 2 + i * 4);
          });
        }
        ctx.restore();
      },
    };
    const trend = (data: P) => ({
      data: toXY(data), showLine: true, borderColor: "#000", borderWidth: 1.6,
      pointRadius: 0, pointHoverRadius: 0, fill: false, order: 0, clip: false as any, tension: 0,
    });
    const dots = (label: string, data: P, color: string) => ({
      label, data: toXY(data), backgroundColor: color, borderWidth: 0,
      pointRadius: 3.4, pointHoverRadius: 3.4, showLine: false, order: 1, clip: false as any,
    });
    const chart = new Chart(ref.current, {
      type: "scatter",
      data: {
        datasets: [
          trend(p.offTrend) as any,
          trend(p.onTrend) as any,
          dots(seriesLabels[0], p.off, ORANGE) as any,
          dots(seriesLabels[1], p.on, p.onColor) as any,
        ],
      },
      options: {
        responsive: false,
        animation: false,
        events: [],
        layout: { padding: { top: p.padTop, left: p.padLeft, right: p.padRight, bottom: p.padBottom } },
        plugins: { legend: { display: false }, tooltip: { enabled: false }, title: { display: false } },
        scales: {
          x: {
            type: "linear", min: 0, max: xMax,
            ticks: { stepSize: xTickStep, color: GRAY_TEXT, font: { family: FONT, size: 21 }, padding: 19, maxRotation: 0 },
            grid: { display: false, drawTicks: false },
            border: { display: true, color: AXIS, width: 1.3 },
            title: { display: false },
            afterFit: (s: any) => { s.height = p.xH; },
          },
          y: {
            type: "linear", min: 0, max: yMax,
            ticks: { stepSize: yTickStep, color: GRAY_TEXT, font: { family: FONT, size: 21 }, padding: 21 },
            grid: { display: false, drawTicks: false },
            border: { display: true, color: AXIS, width: 1.3 },
            title: { display: true, text: yAxisTitle, color: GRAY_TEXT, font: { family: FONT, size: 21 }, padding: { top: 3, bottom: 4 } },
            afterFit: (s: any) => { s.width = p.yW; },
          },
        },
      },
      plugins: [overlay as any],
    });
    return () => chart.destroy();
  }, [p]);
  return (
    <canvas ref={ref} width={1287} height={p.height}
      style={{ position: "absolute", left: 0, top: p.top, width: 1287, height: p.height }} />
  );
}

function CaptionLine({ text, bold, top, width }: { text: string; bold?: string; top: number; width: number }) {
  const ref = useRef<HTMLSpanElement>(null);
  useLayoutEffect(() => {
    const el = ref.current;
    if (!el) return;
    el.style.transform = "none";
    const w = el.getBoundingClientRect().width;
    if (w > 0) el.style.transform = `scaleX(${width / w})`;
  }, [text, width]);
  return (
    <span ref={ref} style={{ position: "absolute", left: 25, top, whiteSpace: "nowrap", display: "inline-block",
      transformOrigin: "0 0", fontFamily: FONT, fontSize: 20, lineHeight: "26px", color: "#231F20" }}>
      {bold ? <b>{bold} </b> : null}{text}
    </span>
  );
}

export default function App() {
  return (
    <div style={{ position: "absolute", left: 0, top: 0, width: 1287, height: 1222, overflow: "hidden", background: "#fff" }}>
      <div style={{ position: "absolute", left: 10, top: 10, width: 1300, height: 1209, border: "2px solid #231F20",
        borderRadius: 12, boxSizing: "border-box" }} />
      {panels.map((p, i) => <ChartPanel key={i} p={p} />)}
      <CaptionLine bold={captionBold} text={captionLines[0]} top={1164} width={1228} />
      <CaptionLine text={captionLines[1]} top={1190} width={1172} />
    </div>
  );
}
